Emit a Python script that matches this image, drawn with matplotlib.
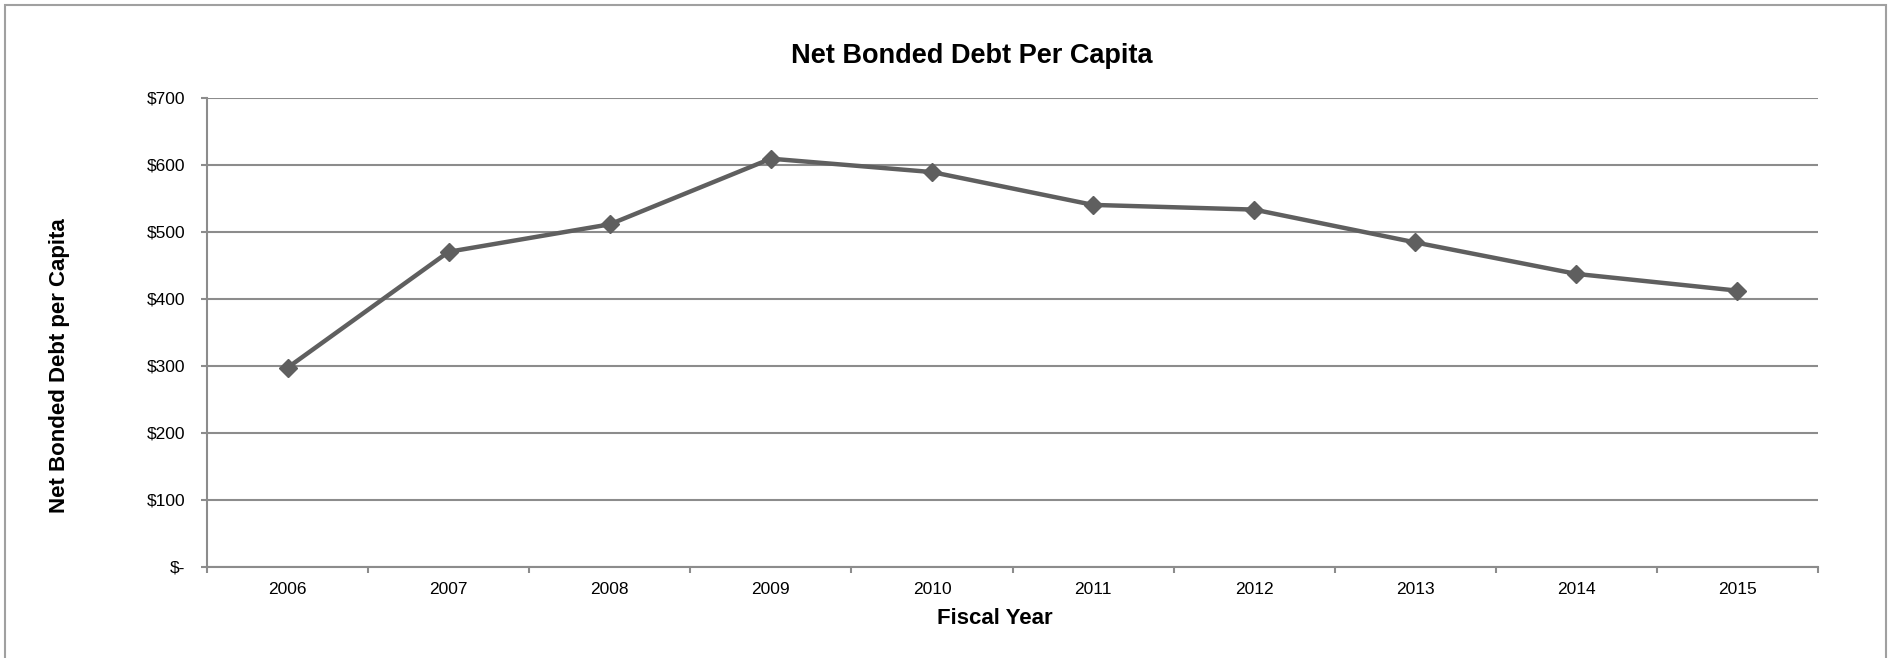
import numpy as np
import matplotlib
matplotlib.use("Agg")
import matplotlib.pyplot as plt
from matplotlib.patches import Rectangle
from matplotlib.ticker import FixedLocator, FuncFormatter

plt.rcParams['font.family'] = ['Liberation Sans', 'DejaVu Sans']

years = ['2006', '2007', '2008', '2009', '2010', '2011', '2012', '2013', '2014', '2015']
debt_per_capita = [297, 470, 511, 609, 589, 540, 533, 484, 437, 412]
y_ticks = [0, 100, 200, 300, 400, 500, 600, 700]

grid_col = '#8c8c8c'
line_col = '#5f5f5f'

fig = plt.figure(figsize=(18.91, 6.58), dpi=100)
ax = fig.add_axes([207 / 1891, 1 - 566.7 / 658, (1818 - 207) / 1891, (566.7 - 97.7) / 658])

# frame around the whole chart area (open at the bottom edge)
fig.patches.append(Rectangle((5 / 1891, -0.05), 1881 / 1891, 1.05 - 5 / 658,
                             transform=fig.transFigure, fill=False,
                             edgecolor='#a0a0a0', linewidth=1.5))

x = np.arange(len(years))
ax.plot(x, debt_per_capita, color=line_col, linewidth=3.2, marker='D',
        markersize=9, markerfacecolor=line_col, markeredgecolor=line_col, zorder=3)

ax.set_xlim(-0.5, len(years) - 0.5)
ax.set_ylim(0, 700)

ax.set_yticks(y_ticks)
ax.yaxis.set_major_formatter(FuncFormatter(lambda v, p: '$-' if v == 0 else f'${v:.0f}'))
ax.grid(axis='y', color=grid_col, linewidth=1.5)
ax.set_axisbelow(True)

ax.set_xticks(x)
ax.set_xticklabels(years)
ax.xaxis.set_minor_locator(FixedLocator(np.arange(-0.5, len(years), 1.0)))
ax.tick_params(axis='x', which='major', length=0, pad=11, labelsize=12.5)
ax.tick_params(axis='x', which='minor', length=4.5, width=1.5, color=grid_col, direction='out')
ax.tick_params(axis='y', length=4.5, width=1.5, color=grid_col, pad=11, labelsize=12.5)

for side in ['top', 'right']:
    ax.spines[side].set_visible(False)
for side in ['left', 'bottom']:
    ax.spines[side].set_color(grid_col)
    ax.spines[side].set_linewidth(1.5)

fig.text(972 / 1891, 1 - 56 / 658, 'Net Bonded Debt Per Capita', ha='center', va='center',
         fontsize=19.5, fontweight='bold')
fig.text(60 / 1891, 1 - 366 / 658, 'Net Bonded Debt per Capita', ha='center', va='center',
         rotation=90, fontsize=16, fontweight='bold')
fig.text(995 / 1891, 1 - 619 / 658, 'Fiscal Year', ha='center', va='center',
         fontsize=16, fontweight='bold')

fig.savefig('out.png', dpi=100, facecolor='white')
